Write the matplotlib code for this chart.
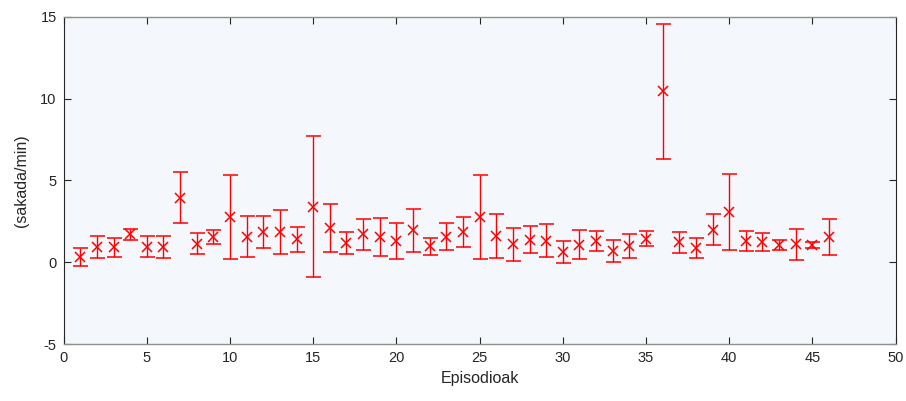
import numpy as np
import matplotlib.pyplot as plt

plt.rcParams['font.family'] = ['Liberation Sans', 'DejaVu Sans']
plt.rcParams['axes.unicode_minus'] = False

# Sakaden batez bestekoa eta desbideratzea episodio bakoitzeko
episodes = np.arange(1, 47)
mean_rate = [0.34, 0.95, 0.92, 1.70, 0.94, 0.93, 3.95, 1.13, 1.54, 2.76,
             1.55, 1.84, 1.86, 1.41, 3.40, 2.07, 1.15, 1.72, 1.54, 1.32,
             1.95, 0.97, 1.56, 1.86, 2.76, 1.63, 1.09, 1.39, 1.32, 0.63,
             1.08, 1.32, 0.70, 0.99, 1.45, 10.44, 1.22, 0.86, 1.99, 3.08,
             1.31, 1.25, 1.07, 1.09, 1.06, 1.53]
std_rate = [0.56, 0.66, 0.57, 0.31, 0.64, 0.66, 1.58, 0.63, 0.45, 2.57,
            1.25, 0.97, 1.33, 0.76, 4.33, 1.47, 0.67, 0.94, 1.16, 1.11,
            1.31, 0.51, 0.82, 0.90, 2.55, 1.35, 1.02, 0.82, 1.01, 0.66,
            0.90, 0.61, 0.67, 0.73, 0.47, 4.14, 0.63, 0.60, 0.95, 2.31,
            0.61, 0.56, 0.32, 0.95, 0.20, 1.10]

fig = plt.figure(figsize=(9.06, 4.01), dpi=100)
ax = fig.add_axes([0.0702, 0.1419, 0.9183, 0.8162])
ax.set_facecolor('#f4f7fc')

ax.errorbar(episodes, mean_rate, yerr=std_rate, fmt='x', color='#ff0000',
            ecolor='#ff0000', markersize=6.5, markeredgewidth=1.1,
            elinewidth=1.0, capsize=5.4, capthick=1.0)

ax.set_xlim(0, 50)
ax.set_ylim(-5, 15)
ax.set_xticks(np.arange(0, 51, 5))
ax.set_yticks(np.arange(-5, 16, 5))

# ardatzen estiloa: tickak barrura, lau aldeetan
for side in ['left', 'right']:
    ax.spines[side].set_color('#262626')
    ax.spines[side].set_linewidth(0.8)
for side in ['top', 'bottom']:
    ax.spines[side].set_color('#8f8f8f')
    ax.spines[side].set_linewidth(1.0)
ax.tick_params(direction='in', length=5, width=0.8, top=True, right=True,
               colors='#262626', labelsize=10.5, pad=5)

ax.set_xlabel('Episodioak', fontsize=11.5, color='#262626', labelpad=4)
ax.set_ylabel('(sakada/min)', fontsize=11.5, color='#262626', labelpad=8)

plt.savefig('out.png', dpi=100)
